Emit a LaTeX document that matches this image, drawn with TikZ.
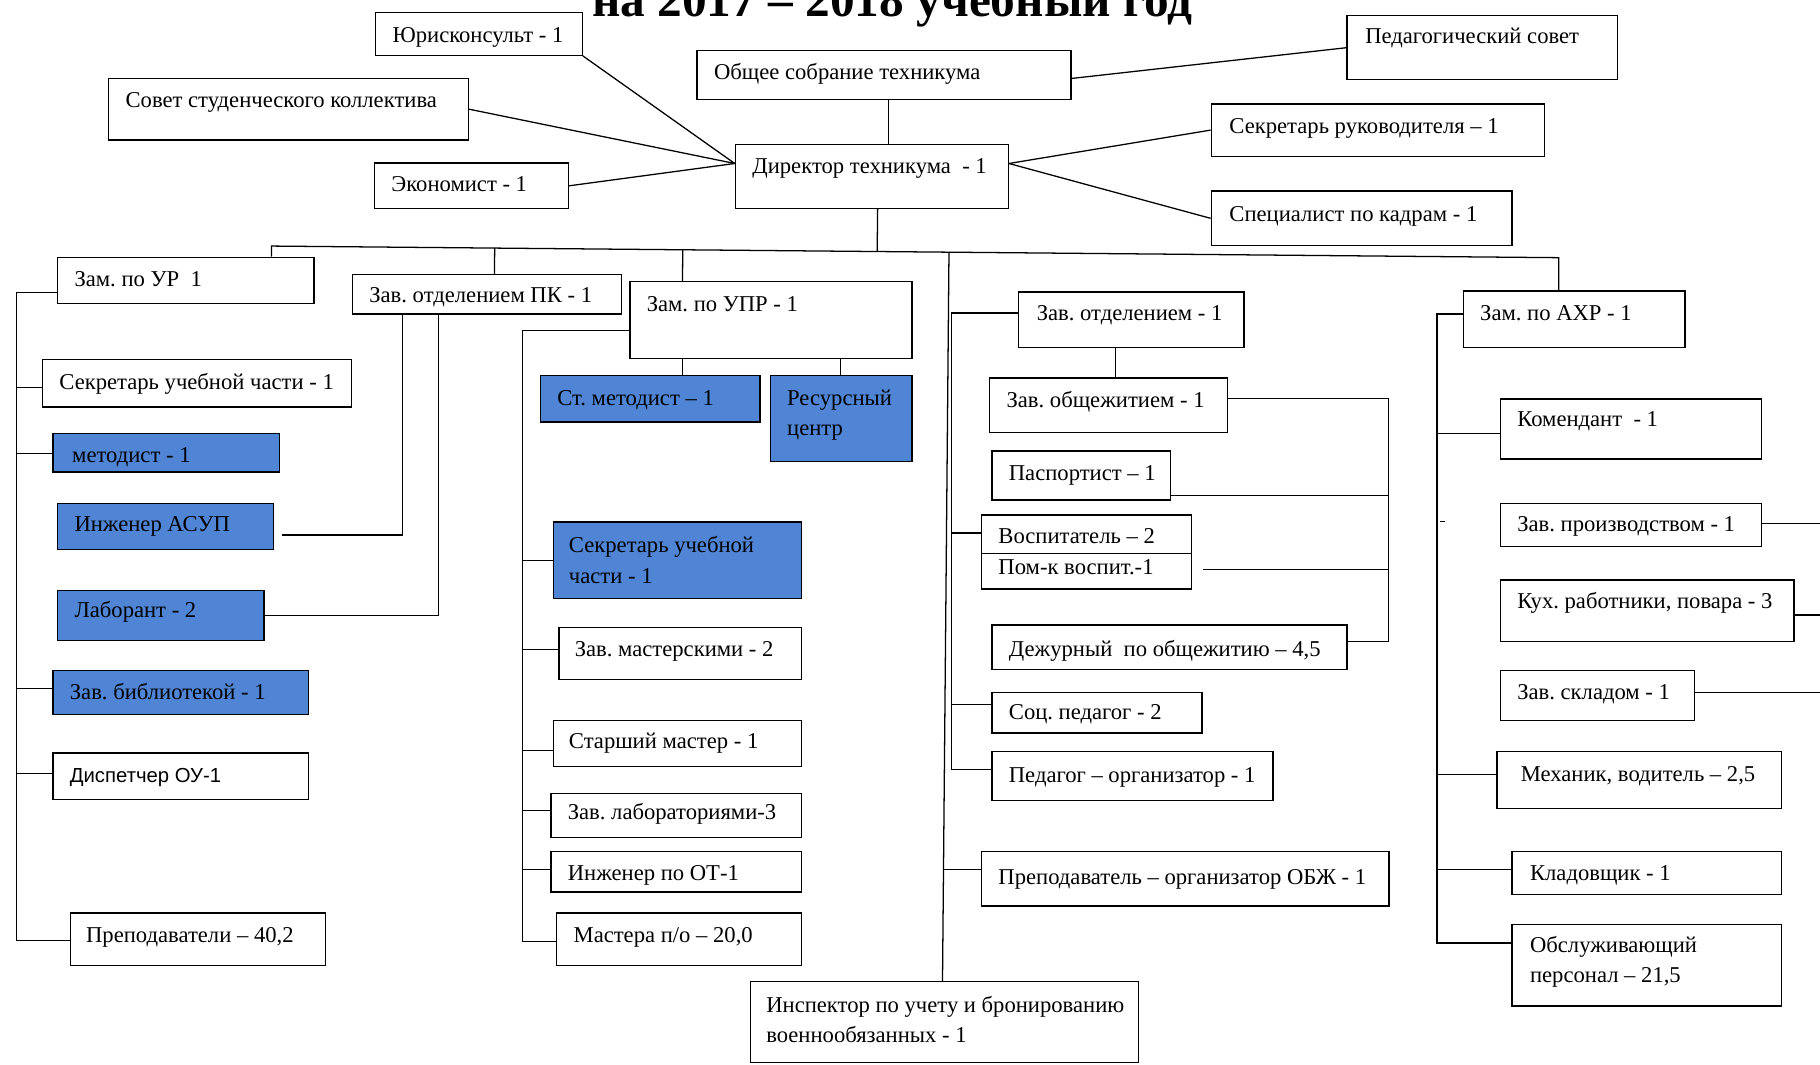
\documentclass[tikz,border=0pt]{standalone}
\usepackage{fontspec}
\setmainfont{Liberation Serif}
\newfontfamily\sansf{Liberation Sans}
\usetikzlibrary{calc}
\definecolor{boxblue}{RGB}{79,133,212}
\newcommand\mybx[6][]{\node[box,#1,minimum width={(#5-#3)*1pt},minimum height={(#6-#4)*1pt},anchor=north west] (#2) at (#3,#4) {};}
\frenchspacing
\begin{document}
\begin{tikzpicture}[x=1pt,y=-1pt,
  box/.style={draw,line width=1.2pt,inner sep=0pt,fill=white},
  bluebox/.style={fill=boxblue},
  conn/.style={line width=1.1pt},
  txt/.style={anchor=west,inner sep=0pt,yshift=-1.5pt,text height=14pt,text depth=4.5pt,font=\fontsize{19.5}{26}\selectfont},
  mtxt/.style={anchor=west,inner sep=0pt,yshift=-1.5pt,align=left,font=\fontsize{19.5}{26}\selectfont}]
\useasboundingbox[fill=white] (0,0) rectangle (1568,917);

\node[anchor=base west,inner sep=0pt,font=\bfseries\fontsize{42.5}{42.5}\selectfont] (title) at (510,14) {на 2017 – 2018 учебный год};

% top boxes
\mybx{yur}{323}{10}{501}{47}
\mybx{obsh}{600}{43}{922}{85}
\mybx{ped}{1160}{13}{1393}{68}
\mybx{sov}{93}{67}{403}{120}
\mybx{sekr}{1043}{89}{1330}{134}
\mybx{dir}{633}{124}{868}{179}
\mybx{econ}{322}{140}{489}{179}
\mybx{spec}{1043}{164}{1302}{211}
% left
\mybx{zur}{49}{221}{270}{261}
\mybx{pk}{303}{236}{535}{270}
\mybx{suc}{36}{309}{302}{350}
\mybx[bluebox]{met}{45}{373}{240}{406}
\mybx[bluebox]{asup}{49}{433}{235}{473}
\mybx[bluebox]{lab}{49}{508}{227}{551}
\mybx[bluebox]{bib}{45}{577}{265}{615}
\mybx{disp}{45}{648}{265}{688}
\mybx{prep}{60}{786}{280}{831}
% UPR
\mybx{upr}{542}{242}{785}{308}
\mybx[bluebox]{stm}{465}{323}{654}{363}
\mybx[bluebox]{res}{663}{323}{785}{397}
\mybx[bluebox]{suc2}{476}{449}{690}{515}
\mybx{mast}{481}{540}{690}{585}
\mybx{stmast}{476}{620}{690}{660}
\mybx{zlab}{474}{683}{690}{721}
\mybx{ingot}{474}{733}{690}{768}
\mybx{mpo}{479}{786}{690}{831}
% middle
\mybx{zotd}{877}{251}{1071}{299}
\mybx{zob}{852}{325}{1057}{372}
\mybx{pasp}{854}{388}{1008}{430}
\mybx{vosp}{845}{443}{1026}{507}
\mybx{dezh}{854}{538}{1160}{576}
\mybx{socp}{854}{596}{1035}{631}
\mybx{pedorg}{854}{647}{1096}{689}
\mybx{obzh}{845}{733}{1196}{780}
\mybx{insp}{646}{845}{980}{915}
% AXR
\mybx{axr}{1260}{250}{1451}{299}
\mybx{kom}{1292}{343}{1517}{395}
\mybx{zpr}{1292}{433}{1517}{470}
\mybx{kuh}{1292}{499}{1545}{552}
\mybx{zskl}{1292}{577}{1459}{620}
\mybx{mech}{1289}{647}{1534}{696}
\mybx{klad}{1302}{733}{1534}{770}
\mybx{obsl}{1302}{796}{1534}{866}

% texts
\node[txt] (yur-t) at (338,30) {Юрисконсульт - 1};
\node[txt] (obsh-t) at (615,62) {Общее собрание техникума};
\node[txt] (ped-t) at (1176,31) {Педагогический совет};
\node[txt] (sov-t) at (108,86) {Совет студенческого коллектива};
\node[txt] (sekr-t) at (1059,109) {Секретарь руководителя – 1};
\node[txt] (dir-t) at (648,143) {Директор техникума\ \ - 1};
\node[txt] (econ-t) at (337,159) {Экономист - 1};
\node[txt] (spec-t) at (1059,185) {Специалист по кадрам - 1};
\node[txt] (zur-t) at (64,241) {Зам. по УР\ \ 1};
\node[txt] (pk-t) at (318,254) {Зав. отделением ПК - 1};
\node[txt] (upr-t) at (557,262) {Зам. по УПР - 1};
\node[txt] (suc-t) at (51,329) {Секретарь учебной части - 1};
\node[txt] (met-t) at (62,392) {методист - 1};
\node[txt] (asup-t) at (64,452) {Инженер АСУП};
\node[txt] (lab-t) at (64,526) {Лаборант - 2};
\node[txt] (bib-t) at (60,596) {Зав. библиотекой - 1};
\node[txt,font=\sansf\fontsize{17.5}{22}\selectfont] (disp-t) at (60,668) {Диспетчер ОУ-1};
\node[txt] (prep-t) at (74,806) {Преподаватели – 40,2};
\node[txt] (stm-t) at (480,343) {Ст. методист – 1};
\node[mtxt] (res-t) at (678,356) {Ресурсный\\центр};
\node[mtxt] (suc2-t) at (490,481) {Секретарь учебной\\части - 1};
\node[txt] (mast-t) at (495,559) {Зав. мастерскими - 2};
\node[txt] (stmast-t) at (490,639) {Старший мастер - 1};
\node[txt] (zlab-t) at (489,700) {Зав. лабораториями-3};
\node[txt] (ingot-t) at (489,752) {Инженер по ОТ-1};
\node[txt] (mpo-t) at (494,806) {Мастера п/о – 20,0};
\node[txt] (zotd-t) at (893,270) {Зав. отделением - 1};
\node[txt] (zob-t) at (867,345) {Зав. общежитием - 1};
\node[txt] (pasp-t) at (869,408) {Паспортист – 1};
\node[txt] (vosp-t) at (860,462) {Воспитатель – 2};
\node[txt] (vosp2-t) at (860,489) {Пом-к воспит.-1};
\node[txt] (dezh-t) at (869,559) {Дежурный\ \ по общежитию – 4,5};
\node[txt] (socp-t) at (869,614) {Соц. педагог - 2};
\node[txt] (pedorg-t) at (869,668) {Педагог – организатор - 1};
\node[txt] (obzh-t) at (860,756) {Преподаватель – организатор ОБЖ - 1};
\node[mtxt] (insp-t) at (660,877) {Инспектор по учету и бронированию\\военнообязанных - 1};
\node[txt] (axr-t) at (1275,270) {Зам. по АХР - 1};
\node[txt] (kom-t) at (1307,361) {Комендант\ \ - 1};
\node[txt] (zpr-t) at (1307,452) {Зав. производством - 1};
\node[txt] (kuh-t) at (1307,518) {Кух. работники, повара - 3};
\node[txt] (zskl-t) at (1307,596) {Зав. складом - 1};
\node[txt] (mech-t) at (1310,667) {Механик, водитель – 2,5};
\node[txt] (klad-t) at (1318,752) {Кладовщик - 1};
\node[mtxt] (obsl-t) at (1318,827) {Обслуживающий\\персонал – 21,5};

% director connectors
\coordinate (dirL) at ($(dir.north west)!0.3!(dir.south west)$);
\coordinate (dirR) at ($(dir.north east)!0.3!(dir.south east)$);
\draw[conn] (yur.south east) -- (dirL);
\draw[conn] (sov.east) -- (dirL);
\draw[conn] (econ.east) -- (dirL);
\draw[conn] (dirR) -- (sekr.west);
\draw[conn] (dirR) -- (spec.west);
\draw[conn] ($(obsh.east)+(0,3)$) -- (ped.west);
\coordinate (obshD) at ($(obsh.south)+(4,0)$);
\draw[conn] (obshD) -- (obshD |- dir.north);

% bus
\coordinate (busL) at (234,212);
\coordinate (busR) at (1343,222);
\coordinate (dirD) at ($(dir.south)+(5,0)$);
\draw[conn] (dirD) -- ($(busL)!(dirD)!(busR)$);
\draw[conn] (busL |- zur.north) -- (busL) -- (busR) -- (busR |- axr.north);
\coordinate (pkT) at ($(pk.north west)+(123,0)$);
\draw[conn] (pkT) -- ($(busL)!(pkT)!(busR)$);
\coordinate (uprT) at ($(upr.north west)+(46,0)$);
\draw[conn] (uprT) -- ($(busL)!(uprT)!(busR)$);
\coordinate (inspT) at ($(insp.north west)+(166,0)$);
\draw[conn] (inspT) -- ($(busL)!(inspT)!(busR)$);
\coordinate (obzhB) at ($(obzh.north west)!0.34!(obzh.south west)$);
\draw[conn] (obzhB) -- (obzhB -| inspT);

% middle group
\coordinate (gx) at (820,269);
\coordinate (zotdB) at ($(zotd.north west)!0.38!(zotd.south west)$);
\coordinate (vospB) at ($(vosp.north west)!0.25!(vosp.south west)$);
\coordinate (socpB) at ($(socp.north west)!0.30!(socp.south west)$);
\coordinate (pedorgB) at ($(pedorg.north west)!0.37!(pedorg.south west)$);
\draw[conn] (zotdB) -- (zotdB -| gx) -- (gx |- pedorgB) -- (pedorgB);
\draw[conn] (vospB) -- (vospB -| gx);
\draw[conn] (socpB) -- (socpB -| gx);
\coordinate (zotdD) at ($(zotd.south west)+(84,0)$);
\draw[conn] (zotdD) -- (zotdD |- zob.north);
\draw[conn] ($(vosp.north west)!0.516!(vosp.south west)$) -- ($(vosp.north east)!0.516!(vosp.south east)$);

% dormitory bracket
\coordinate (rb) at (1196,343);
\coordinate (zobB) at ($(zob.north east)!0.38!(zob.south east)$);
\coordinate (paspB) at ($(pasp.north east)!0.9!(pasp.south east)$);
\coordinate (vospR) at ($(vosp.north east)!0.73!(vosp.south east)+(9,0)$);
\coordinate (dezhB) at ($(dezh.north east)!0.37!(dezh.south east)$);
\draw[conn] (zobB) -- (zobB -| rb) -- (rb |- dezhB) -- (dezhB);
\draw[conn] (paspB) -- (paspB -| rb);
\draw[conn] (vospR) -- (vospR -| rb);

% left column
\coordinate (lc) at (14,251);
\coordinate (zurB) at ($(zur.north west)!0.75!(zur.south west)$);
\coordinate (sucB) at ($(suc.north west)!0.585!(suc.south west)$);
\coordinate (metB) at ($(met.north west)!0.52!(met.south west)$);
\coordinate (bibB) at ($(bib.north west)!0.42!(bib.south west)$);
\coordinate (dispB) at ($(disp.north west)!0.45!(disp.south west)$);
\coordinate (prepB) at ($(prep.north west)!0.53!(prep.south west)$);
\draw[conn] (zurB) -- (zurB -| lc) -- (lc |- prepB) -- (prepB);
\draw[conn] (sucB) -- (sucB -| lc);
\draw[conn] (metB) -- (metB -| lc);
\draw[conn] (bibB) -- (bibB -| lc);
\draw[conn] (dispB) -- (dispB -| lc);

% PK links
\coordinate (pk1) at ($(pk.south west)+(44,0)$);
\coordinate (pk2) at ($(pk.south west)+(75,0)$);
\coordinate (asupR) at ($(asup.north east)!0.675!(asup.south east)+(7,0)$);
\coordinate (labR) at ($(lab.north east)!0.51!(lab.south east)$);
\draw[conn] (asupR) -- (asupR -| pk1) -- (pk1);
\draw[conn] (labR) -- (labR -| pk2) -- (pk2);

% UPR links
\coordinate (u1) at ($(upr.south west)+(46,0)$);
\coordinate (u2) at ($(upr.south west)+(182,0)$);
\draw[conn] (u1) -- (u1 |- stm.north);
\draw[conn] (u2) -- (u2 |- res.north);
\coordinate (uc) at (450,284);
\coordinate (uprB) at ($(upr.north west)!0.636!(upr.south west)$);
\coordinate (suc2B) at ($(suc2.north west)!0.5!(suc2.south west)$);
\coordinate (mastB) at ($(mast.north west)!0.42!(mast.south west)$);
\coordinate (stmastB) at ($(stmast.north west)!0.65!(stmast.south west)$);
\coordinate (zlabB) at ($(zlab.north west)!0.39!(zlab.south west)$);
\coordinate (ingotB) at ($(ingot.north west)!0.44!(ingot.south west)$);
\coordinate (mpoB) at ($(mpo.north west)!0.55!(mpo.south west)$);
\draw[conn] (uprB) -- (uprB -| uc) -- (uc |- mpoB) -- (mpoB);
\draw[conn] (suc2B) -- (suc2B -| uc);
\draw[conn] (mastB) -- (mastB -| uc);
\draw[conn] (stmastB) -- (stmastB -| uc);
\draw[conn] (zlabB) -- (zlabB -| uc);
\draw[conn] (ingotB) -- (ingotB -| uc);

% AXR links
\coordinate (ac) at (1238,270);
\coordinate (axrB) at ($(axr.north west)!0.41!(axr.south west)$);
\coordinate (komB) at ($(kom.north west)!0.57!(kom.south west)$);
\coordinate (mechB) at ($(mech.north west)!0.40!(mech.south west)$);
\coordinate (kladB) at ($(klad.north west)!0.42!(klad.south west)$);
\coordinate (obslB) at ($(obsl.north west)!0.23!(obsl.south west)$);
\draw[conn] (axrB) -- (axrB -| ac) -- (ac |- obslB) -- (obslB);
\draw[conn] (komB) -- (komB -| ac);
\draw[conn] (mechB) -- (mechB -| ac);
\draw[conn] (kladB) -- (kladB -| ac);
\draw[line width=0.8pt] (1241,449) -- (1245,449);

% right edge
\coordinate (edge) at (1568,0);
\coordinate (zprB) at ($(zpr.north east)!0.47!(zpr.south east)$);
\coordinate (kuhB) at ($(kuh.north east)!0.57!(kuh.south east)$);
\coordinate (zsklB) at ($(zskl.north east)!0.44!(zskl.south east)$);
\draw[conn] (zprB) -- (zprB -| edge);
\draw[conn] (kuhB) -- (kuhB -| edge);
\draw[conn] (zsklB) -- (zsklB -| edge);
\end{tikzpicture}
\end{document}
